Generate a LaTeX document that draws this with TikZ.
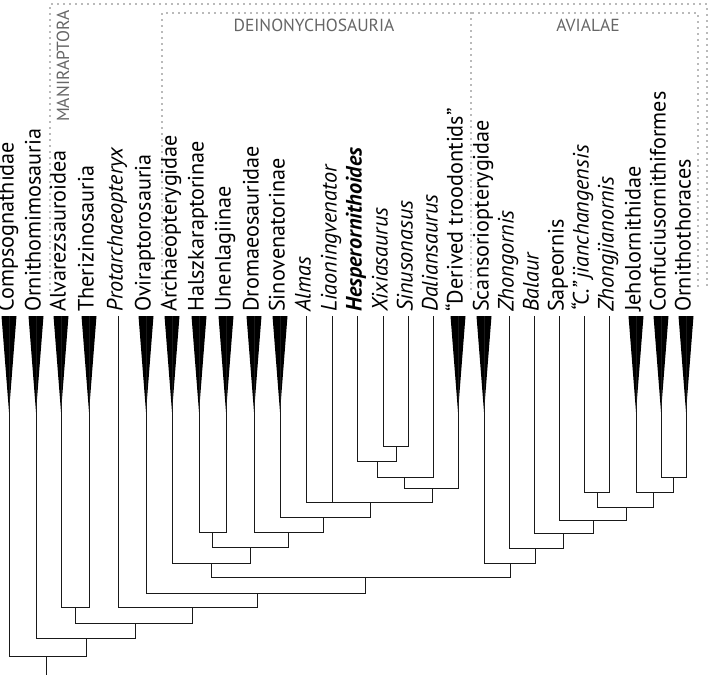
\documentclass[tikz,border=0pt]{standalone}
\usepackage{fontspec}
\setmainfont{PT Sans}
\usetikzlibrary{positioning}
\tikzstyle{taxon} = [xshift=2.2pt, rotate=90, anchor=mid west, inner xsep=4pt, inner ysep=2pt, font=\fontsize{22.2}{22.2}\selectfont]
\tikzstyle{branch} = [line width=1pt, draw=black!90]
\tikzstyle{clade} = [fill=black]
\tikzstyle{group} = [draw=black!55, line width=1.8pt, dash pattern=on 0pt off 6pt, line cap=round]
\tikzstyle{grouplabel} = [text=black!60, inner sep=0pt, font=\fontsize{17.5}{17.5}\selectfont]
\begin{document}
\begin{tikzpicture}[x=1pt, y=-1pt]
        \useasboundingbox (0,0) rectangle (714,678);

        % group frames
        \draw [group] (50,290) -- (50,4) -- (707,4) -- (707,290);
        \draw [group] (162,290) -- (162,13) -- (698,13) -- (698,290);
        \draw [group] (471,13) -- (471,290);
        \node (maniraptora) [grouplabel, rotate=90] at (63,66) {MANIRAPTORA};
        \node (deinolbl) [grouplabel] at (314,25) {DEINONYCHOSAURIA};
        \node (avilbl) [grouplabel] at (588,25) {AVIALAE};

        % tips
        \coordinate (compso) at (9,316);
        \coordinate (ornitho) at (36,316);
        \coordinate (alvarez) at (61,316);
        \coordinate (theriz) at (89,316);
        \coordinate (protarch) at (118,316);
        \coordinate (ovirap) at (146,316);
        \coordinate (archaeo) at (172,316);
        \coordinate (halszka) at (199,316);
        \coordinate (unenla) at (226,316);
        \coordinate (dromaeo) at (254,316);
        \coordinate (sinoven) at (280,316);
        \coordinate (almas) at (306,316);
        \coordinate (liaoning) at (332,316);
        \coordinate (hesper) at (357,316);
        \coordinate (xixia) at (383,316);
        \coordinate (sinuso) at (408,316);
        \coordinate (dalian) at (433,316);
        \coordinate (dertroo) at (458,316);
        \coordinate (scanso) at (484,316);
        \coordinate (zhongor) at (509,316);
        \coordinate (balaur) at (534,316);
        \coordinate (sapeor) at (559,316);
        \coordinate (jianch) at (584,316);
        \coordinate (zhongji) at (609,316);
        \coordinate (jeholo) at (636,316);
        \coordinate (confuc) at (661,316);
        \coordinate (ornthor) at (686,316);

        % labels
        \node (compso-lbl) [taxon] at (compso) {Compsognathidae};
        \node (ornitho-lbl) [taxon] at (ornitho) {Ornithomimosauria};
        \node (alvarez-lbl) [taxon] at (alvarez) {Alvarezsauroidea};
        \node (theriz-lbl) [taxon] at (theriz) {Therizinosauria};
        \node (protarch-lbl) [taxon] at (protarch) {\textit{Protarchaeopteryx}};
        \node (ovirap-lbl) [taxon] at (ovirap) {Oviraptorosauria};
        \node (archaeo-lbl) [taxon] at (archaeo) {Archaeopterygidae};
        \node (halszka-lbl) [taxon] at (halszka) {Halszkaraptorinae};
        \node (unenla-lbl) [taxon] at (unenla) {Unenlagiinae};
        \node (dromaeo-lbl) [taxon] at (dromaeo) {Dromaeosauridae};
        \node (sinoven-lbl) [taxon] at (sinoven) {Sinovenatorinae};
        \node (almas-lbl) [taxon] at (almas) {\textit{Almas}};
        \node (liaoning-lbl) [taxon] at (liaoning) {\textit{Liaoningvenator}};
        \node (hesper-lbl) [taxon] at (hesper) {\textbf{\textit{Hesperornithoides}}};
        \node (xixia-lbl) [taxon] at (xixia) {\textit{Xixiasaurus}};
        \node (sinuso-lbl) [taxon] at (sinuso) {\textit{Sinusonasus}};
        \node (dalian-lbl) [taxon] at (dalian) {\textit{Daliansaurus}};
        \node (dertroo-lbl) [taxon] at (dertroo) {“Derived troodontids”};
        \node (scanso-lbl) [taxon] at (scanso) {Scansoriopterygidae};
        \node (zhongor-lbl) [taxon] at (zhongor) {\textit{Zhongornis}};
        \node (balaur-lbl) [taxon] at (balaur) {\textit{Balaur}};
        \node (sapeor-lbl) [taxon] at (sapeor) {Sapeornis};
        \node (jianch-lbl) [taxon] at (jianch) {\textit{“C.”\,jianchangensis}};
        \node (zhongji-lbl) [taxon] at (zhongji) {\textit{Zhongjianornis}};
        \node (jeholo-lbl) [taxon] at (jeholo) {Jeholornithidae};
        \node (confuc-lbl) [taxon] at (confuc) {Confuciusornithiformes};
        \node (ornthor-lbl) [taxon] at (ornthor) {Ornithothoraces};

        % collapsed clades
        \fill [clade] (compso) ++(-7.5,0) -- ++(15,0) -- ++(-7.5,96) -- cycle;
        \fill [clade] (ornitho) ++(-7.5,0) -- ++(15,0) -- ++(-7.5,96) -- cycle;
        \fill [clade] (alvarez) ++(-7.5,0) -- ++(15,0) -- ++(-7.5,96) -- cycle;
        \fill [clade] (theriz) ++(-7.5,0) -- ++(15,0) -- ++(-7.5,96) -- cycle;
        \fill [clade] (ovirap) ++(-7.5,0) -- ++(15,0) -- ++(-7.5,96) -- cycle;
        \fill [clade] (archaeo) ++(-7.5,0) -- ++(15,0) -- ++(-7.5,96) -- cycle;
        \fill [clade] (halszka) ++(-7.5,0) -- ++(15,0) -- ++(-7.5,96) -- cycle;
        \fill [clade] (unenla) ++(-7.5,0) -- ++(15,0) -- ++(-7.5,96) -- cycle;
        \fill [clade] (dromaeo) ++(-7.5,0) -- ++(15,0) -- ++(-7.5,96) -- cycle;
        \fill [clade] (sinoven) ++(-7.5,0) -- ++(15,0) -- ++(-7.5,96) -- cycle;
        \fill [clade] (dertroo) ++(-7.5,0) -- ++(15,0) -- ++(-7.5,96) -- cycle;
        \fill [clade] (scanso) ++(-7.5,0) -- ++(15,0) -- ++(-7.5,96) -- cycle;
        \fill [clade] (jeholo) ++(-7.5,0) -- ++(15,0) -- ++(-7.5,96) -- cycle;
        \fill [clade] (confuc) ++(-7.5,0) -- ++(15,0) -- ++(-7.5,96) -- cycle;
        \fill [clade] (ornthor) ++(-7.5,0) -- ++(15,0) -- ++(-7.5,96) -- cycle;

        % internal nodes
        \coordinate (xisi) at (396,446);
        \coordinate (hesxs) at (377,461);
        \coordinate (dalhx) at (404,477);
        \coordinate (troodp) at (432,488);
        \coordinate (troodc) at (370,502);
        \coordinate (troodontidae) at (323,517);
        \coordinate (dromtro) at (288,532);
        \coordinate (halun) at (212,532);
        \coordinate (deinony) at (250,547);
        \coordinate (archdei) at (211,563);
        \coordinate (cjzj) at (597,492);
        \coordinate (conorn) at (673,477);
        \coordinate (jehcon) at (653,492);
        \coordinate (pygo) at (626,507);
        \coordinate (sapnode) at (593,520);
        \coordinate (balnode) at (563,533);
        \coordinate (zhonode) at (535,548);
        \coordinate (avialae) at (510,563);
        \coordinate (paraves) at (365,577);
        \coordinate (pennar) at (257,593);
        \coordinate (protnode) at (192,607);
        \coordinate (alvthe) at (75,607);
        \coordinate (manirap) at (135,623);
        \coordinate (maniorn) at (86,638);
        \coordinate (rootnode) at (46,656);
        \coordinate (stub) at (46,675);

        % branches
        \draw [branch] (xixia) |- (xisi) (sinuso) |- (xisi);
        \draw [branch] (hesper) |- (hesxs) (xisi) |- (hesxs);
        \draw [branch] (hesxs) |- (dalhx) (dalian) |- (dalhx);
        \draw [branch] (dalhx) |- (troodp) (dertroo) |- (troodp);
        \draw [branch] (almas) |- (troodc) (liaoning) |- (troodc) (troodp) |- (troodc);
        \draw [branch] (sinoven) |- (troodontidae) (troodc) |- (troodontidae);
        \draw [branch] (dromaeo) |- (dromtro) (troodontidae) |- (dromtro);
        \draw [branch] (halszka) |- (halun) (unenla) |- (halun);
        \draw [branch] (halun) |- (deinony) (dromtro) |- (deinony);
        \draw [branch] (archaeo) |- (archdei) (deinony) |- (archdei);
        \draw [branch] (jianch) |- (cjzj) (zhongji) |- (cjzj);
        \draw [branch] (confuc) |- (conorn) (ornthor) |- (conorn);
        \draw [branch] (jeholo) |- (jehcon) (conorn) |- (jehcon);
        \draw [branch] (cjzj) |- (pygo) (jehcon) |- (pygo);
        \draw [branch] (sapeor) |- (sapnode) (pygo) |- (sapnode);
        \draw [branch] (balaur) |- (balnode) (sapnode) |- (balnode);
        \draw [branch] (zhongor) |- (zhonode) (balnode) |- (zhonode);
        \draw [branch] (scanso) |- (avialae) (zhonode) |- (avialae);
        \draw [branch] (archdei) |- (paraves) (avialae) |- (paraves);
        \draw [branch] (ovirap) |- (pennar) (paraves) |- (pennar);
        \draw [branch] (protarch) |- (protnode) (pennar) |- (protnode);
        \draw [branch] (alvarez) |- (alvthe) (theriz) |- (alvthe);
        \draw [branch] (alvthe) |- (manirap) (protnode) |- (manirap);
        \draw [branch] (ornitho) |- (maniorn) (manirap) |- (maniorn);
        \draw [branch] (compso) |- (rootnode) (maniorn) |- (rootnode);
        \draw [branch] (rootnode) -- (stub);
    \end{tikzpicture}
\end{document}
